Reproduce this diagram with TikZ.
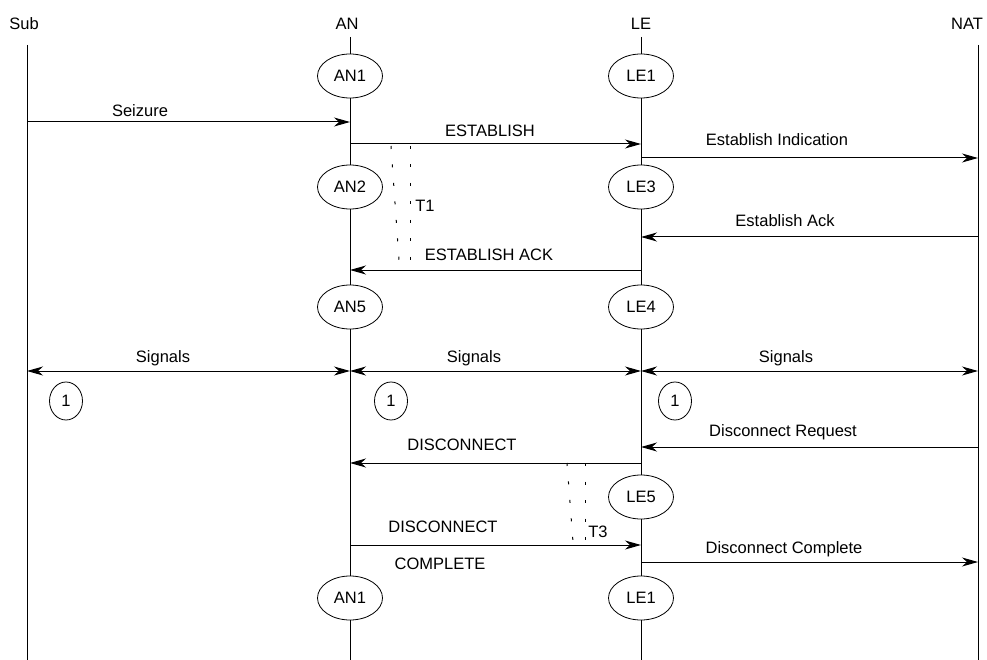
\documentclass[tikz,border=0pt]{standalone}
\usepackage{fontspec}
\setmainfont{Liberation Sans}
\usetikzlibrary{arrows.meta,shapes.geometric}
\begin{document}
\begin{tikzpicture}[x=1pt,y=-1pt,
  every node/.style={font=\fontsize{16.5}{19}\selectfont, inner sep=0pt},
  state/.style={draw, ellipse, line width=0.8pt, minimum width=65pt, minimum height=44pt},
  refcircle/.style={draw, ellipse, line width=0.8pt, minimum width=33pt, minimum height=38pt},
  life/.style={line width=1pt},
  tip/.tip={Stealth[length=16pt,width=9pt,inset=5pt]},
  msg/.style={line width=1pt, -tip},
  dmsg/.style={line width=1pt, tip-tip},
  lbl/.style={anchor=base},
  timer/.style={line width=1pt, dash pattern=on 3pt off 15.5pt}
]
\useasboundingbox (0,0) rectangle (987,660);

% headers
\node (hSub) at (24,24) {Sub};
\node (hAN) at (347,24) {AN};
\node (hLE) at (641,24) {LE};
\node (hNAT) at (967,24) {NAT};

% lifeline ends
\coordinate (subTop) at (27,45);  \coordinate (subBot) at (27,660);
\coordinate (natTop) at (978,45); \coordinate (natBot) at (978,660);
\coordinate (anTop) at (350,37);  \coordinate (anBot) at (350,660);
\coordinate (leTop) at (641,37);  \coordinate (leBot) at (641,660);

% states
\node[state] (AN1) at (350,76) {AN1};
\node[state] (AN2) at (350,187) {AN2};
\node[state] (AN5) at (350,307) {AN5};
\node[state] (AN1b) at (350,598) {AN1};
\node[state] (LE1) at (641,76) {LE1};
\node[state] (LE3) at (641,187) {LE3};
\node[state] (LE4) at (641,307) {LE4};
\node[state] (LE5) at (641,497) {LE5};
\node[state] (LE1b) at (641,598) {LE1};

% lifelines
\draw[life] (subTop) -- (subBot);
\draw[life] (natTop) -- (natBot);
\draw[life] (anTop) -- (AN1.north) (AN1.south) -- (AN2.north) (AN2.south) -- (AN5.north)
  (AN5.south) -- (AN1b.north) (AN1b.south) -- (anBot);
\draw[life] (leTop) -- (LE1.north) (LE1.south) -- (LE3.north) (LE3.south) -- (LE4.north)
  (LE4.south) -- (LE5.north) (LE5.south) -- (LE1b.north) (LE1b.south) -- (leBot);

% message endpoints
\coordinate (sz1) at (27,122);   \coordinate (sz2) at (350,122);
\coordinate (es1) at (350,144);  \coordinate (es2) at (641,144);
\coordinate (ei1) at (641,158);  \coordinate (ei2) at (978,158);
\coordinate (ea1) at (978,237);  \coordinate (ea2) at (641,237);
\coordinate (ek1) at (641,270);  \coordinate (ek2) at (350,270);
\coordinate (sgA) at (27,371);   \coordinate (sgB) at (350,371);
\coordinate (sgC) at (641,371);  \coordinate (sgD) at (978,371);
\coordinate (dr1) at (978,447);  \coordinate (dr2) at (641,447);
\coordinate (dc1) at (641,463);  \coordinate (dc2) at (350,463);
\coordinate (dk1) at (350,545);  \coordinate (dk2) at (641,545);
\coordinate (dn1) at (641,562);  \coordinate (dn2) at (978,562);

\draw[msg] (sz1) -- (sz2);
\draw[msg] (es1) -- (es2);
\draw[msg] (ei1) -- (ei2);
\draw[msg] (ea1) -- (ea2);
\draw[msg] (ek1) -- (ek2);
\draw[dmsg] (sgA) -- (sgB);
\draw[dmsg] (sgB) -- (sgC);
\draw[dmsg] (sgC) -- (sgD);
\draw[msg] (dr1) -- (dr2);
\draw[msg] (dc1) -- (dc2);
\draw[msg] (dk1) -- (dk2);
\draw[msg] (dn1) -- (dn2);

% labels
\node[lbl] (lSz) at (140,117) {Seizure};
\node[lbl] (lEs) at (490,137) {ESTABLISH};
\node[lbl] (lEi) at (777,146) {Establish Indication};
\node[lbl] (lEa) at (785,227) {Establish Ack};
\node[lbl] (lEk) at (489,261) {ESTABLISH ACK};
\node[lbl] (lS1) at (163,362) {Signals};
\node[lbl] (lS2) at (474,362) {Signals};
\node[lbl] (lS3) at (786,362) {Signals};
\node[lbl] (lDr) at (783,436) {Disconnect Request};
\node[lbl] (lDc) at (462,450) {DISCONNECT};
\node[lbl] (lDk) at (443,532) {DISCONNECT};
\node[lbl] (lDk2) at (440,569) {COMPLETE};
\node[lbl] (lDn) at (784,553) {Disconnect Complete};

% reference circles
\node[refcircle] (c1) at (66,401) {1};
\node[refcircle] (c2) at (391,401) {1};
\node[refcircle] (c3) at (675,401) {1};

% timers
\coordinate (t1a) at (391,146); \coordinate (t1b) at (399,260);
\coordinate (t1c) at (410,146); \coordinate (t1d) at (410,260);
\draw[timer] (t1a) -- (t1b);
\draw[timer] (t1c) -- (t1d);
\node[lbl] (lT1) at (425,212) {T1};
\coordinate (t3a) at (567,463); \coordinate (t3b) at (573,542);
\coordinate (t3c) at (585,463); \coordinate (t3d) at (585,542);
\draw[timer] (t3a) -- (t3b);
\draw[timer] (t3c) -- (t3d);
\node[lbl] (lT3) at (598,537) {T3};
\end{tikzpicture}
\end{document}
